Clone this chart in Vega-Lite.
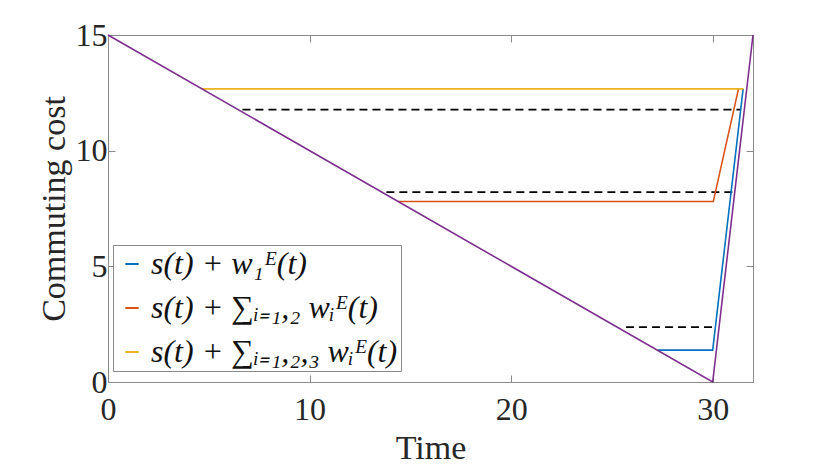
{
  "$schema": "https://vega.github.io/schema/vega-lite/v6.json",
  "width": 645,
  "height": 347,
  "autosize": {"type": "none"},
  "padding": {"left": 108, "top": 35, "right": 77, "bottom": 86},
  "background": "white",
  "config": {
    "view": {"stroke": null},
    "font": "Liberation Serif",
    "axis": {
      "grid": false,
      "domainColor": "#8a8a8a",
      "tickColor": "#8a8a8a",
      "tickSize": -7,
      "labelColor": "#262626",
      "titleColor": "#262626",
      "labelFont": "Liberation Serif",
      "titleFont": "Liberation Serif",
      "labelFontSize": 32,
      "titleFontSize": 34,
      "titleFontWeight": "normal"
    },
    "legend": {
      "orient": "none",
      "legendX": 5,
      "legendY": 210,
      "strokeColor": "#8a8a8a",
      "fillColor": "white",
      "padding": 3,
      "labelFont": "Liberation Serif",
      "labelFontSize": 32,
      "labelFontStyle": "italic",
      "labelColor": "#111",
      "symbolType": "stroke",
      "symbolSize": 180,
      "symbolStrokeWidth": 2,
      "rowPadding": 12,
      "labelOffset": 3,
      "labelLimit": 500
    }
  },
  "datasets": {
    "curves": [
      {"series": "s(t) + w₁ᴱ(t)", "k": 1, "t": 27.27, "y": 1.38},
      {"series": "s(t) + w₁ᴱ(t)", "k": 2, "t": 30.0, "y": 1.38},
      {"series": "s(t) + w₁ᴱ(t)", "k": 3, "t": 31.51, "y": 12.67},
      {"series": "s(t) + ∑ᵢ₌₁,₂ wᵢᴱ(t)", "k": 1, "t": 14.4, "y": 7.8},
      {"series": "s(t) + ∑ᵢ₌₁,₂ wᵢᴱ(t)", "k": 2, "t": 30.03, "y": 7.8},
      {"series": "s(t) + ∑ᵢ₌₁,₂ wᵢᴱ(t)", "k": 3, "t": 31.28, "y": 12.67},
      {"series": "s(t) + ∑ᵢ₌₁,₂,₃ wᵢᴱ(t)", "k": 1, "t": 4.68, "y": 12.67},
      {"series": "s(t) + ∑ᵢ₌₁,₂,₃ wᵢᴱ(t)", "k": 2, "t": 31.53, "y": 12.67}
    ],
    "dashed": [
      {"level": "a", "t": 6.67, "y": 11.77},
      {"level": "a", "t": 31.4, "y": 11.77},
      {"level": "b", "t": 13.81, "y": 8.21},
      {"level": "b", "t": 30.99, "y": 8.21},
      {"level": "c", "t": 25.7, "y": 2.37},
      {"level": "c", "t": 30.19, "y": 2.37}
    ],
    "schedule": [
      {"k": 1, "t": 0, "y": 15},
      {"k": 2, "t": 30, "y": 0},
      {"k": 3, "t": 32, "y": 15}
    ]
  },
  "resolve": {"axis": {"x": "independent", "y": "independent"}},
  "layer": [
    {
      "data": {"name": "dashed"},
      "mark": {"type": "line", "color": "black", "strokeWidth": 1.7, "strokeDash": [8, 5]},
      "encoding": {
        "x": {"field": "t", "type": "quantitative", "scale": {"domain": [0, 32], "nice": false}, "axis": null},
        "y": {"field": "y", "type": "quantitative", "scale": {"domain": [0, 15], "nice": false}, "axis": null},
        "detail": {"field": "level"}
      }
    },
    {
      "data": {"name": "curves"},
      "mark": {"type": "line", "strokeWidth": 1.6},
      "encoding": {
        "x": {
          "field": "t", "type": "quantitative", "title": "Time",
          "scale": {"domain": [0, 32], "nice": false},
          "axis": {"values": [0, 10, 20, 30], "labelPadding": 19, "titlePadding": 6, "labelFlush": false}
        },
        "y": {
          "field": "y", "type": "quantitative", "title": "Commuting cost",
          "scale": {"domain": [0, 15], "nice": false},
          "axis": {"values": [0, 5, 10, 15], "labelPadding": 8, "titlePadding": 4, "labelFlush": false}
        },
        "color": {
          "field": "series", "type": "nominal", "title": null,
          "scale": {
            "domain": ["s(t) + w₁ᴱ(t)", "s(t) + ∑ᵢ₌₁,₂ wᵢᴱ(t)", "s(t) + ∑ᵢ₌₁,₂,₃ wᵢᴱ(t)"],
            "range": ["#0072BD", "#D95319", "#EDB120"]
          }
        },
        "order": {"field": "k"}
      }
    },
    {
      "data": {"name": "schedule"},
      "mark": {"type": "line", "color": "#7E2F8E", "strokeWidth": 1.6},
      "encoding": {
        "x": {
          "field": "t", "type": "quantitative",
          "scale": {"domain": [0, 32], "nice": false},
          "axis": {"orient": "top", "values": [0, 10, 20, 30], "labels": false, "title": null}
        },
        "y": {
          "field": "y", "type": "quantitative",
          "scale": {"domain": [0, 15], "nice": false},
          "axis": {"orient": "right", "values": [0, 5, 10, 15], "labels": false, "title": null}
        },
        "order": {"field": "k"}
      }
    }
  ]
}
